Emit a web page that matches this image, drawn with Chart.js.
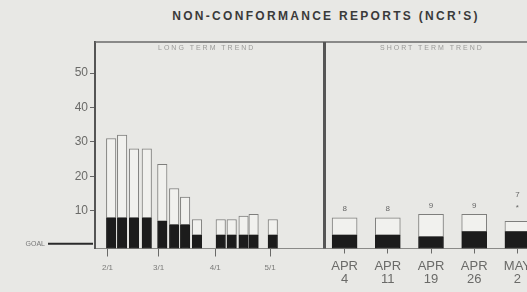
<!DOCTYPE html>
<html>
<head>
<meta charset="utf-8">
<script src="https://cdn.jsdelivr.net/npm/chart.js@4/dist/chart.umd.min.js"></script>
<style>
  html, body { margin: 0; padding: 0; background: #e8e8e5; overflow: hidden; }
  #page { position: relative; width: 527px; height: 292px; overflow: hidden; }
  #title { position: absolute; left: 0; width: 652px; top: 9px; text-align: center;
           font: bold 12px "Liberation Sans", Arial, sans-serif; letter-spacing: 2.3px; color: #3a3a3a; }
  .sub { position: absolute; top: 44px; font: 7px "Liberation Sans", Arial, sans-serif;
         letter-spacing: 2px; color: #9a9a98; white-space: nowrap; }
  #longWrap { position: absolute; left: 0; top: 0; width: 323px; height: 292px; }
  #shortWrap { position: absolute; left: 323px; top: 0; width: 216px; height: 292px; }
</style>
</head>
<body>
<div id="page">
  <div id="title">NON-CONFORMANCE REPORTS (NCR'S)</div>
  <div id="longWrap"><canvas id="longChart"></canvas></div>
  <div id="shortWrap"><canvas id="shortChart"></canvas></div>
  <div class="sub" style="left:158px">LONG TERM TREND</div>
  <div class="sub" style="left:380px">SHORT TERM TREND</div>
</div>
<script>
// 长期趋势：按周的位置（距 2/1 的天数）
const longDays = [2, 8, 14.5, 21.5, 30, 36.5, 42.5, 49, 62, 68, 74.5, 80, 90.5];
const longDark = [8, 8, 8, 8, 7, 6, 6, 3, 3, 3, 3, 3, 3];
const longLight = [23, 24, 20, 20, 16.5, 10.5, 8, 4.5, 4.5, 4.5, 5.5, 6, 4.5];
const monthTicks = [0, 28, 59, 89];
const monthLabels = ['2/1', '3/1', '4/1', '5/1'];

// 短期趋势
const weekLabels = [['APR', '4'], ['APR', '11'], ['APR', '19'], ['APR', '26'], ['MAY', '2']];
const shortDark = [3, 3, 2.5, 4, 4];
const shortLight = [5, 5, 6.5, 5, 3];
const shortTotals = ['8', '8', '9', '9', '7'];
const shortNotes = ['', '', '', '', '*'];

const yTicks = [10, 20, 30, 40, 50];
const goalValue = 0.5;
const yMin = -0.9, yMax = 59;

const DARK = '#1c1c1c';
const LIGHT = '#f1f1ee';
const EDGE = '#7e7e7c';
const FONT = '"Liberation Sans", Arial, sans-serif';

// 画框：顶部横线和右侧图的分隔线
const framePlugin = {
    id: 'frame',
    afterDraw(chart, args, opts) {
        const { ctx, chartArea: a } = chart;
        ctx.save();
        ctx.strokeStyle = '#6a6a68';
        ctx.lineWidth = 1.5;
        ctx.beginPath();
        ctx.moveTo(a.left, a.top);
        ctx.lineTo(a.right, a.top);
        ctx.stroke();
        if (opts.divider) {
            ctx.strokeStyle = '#555';
            ctx.lineWidth = 3;
            ctx.beginPath();
            ctx.moveTo(a.left + 1.5, a.top);
            ctx.lineTo(a.left + 1.5, a.bottom);
            ctx.stroke();
        }
        ctx.restore();
    }
};

// 目标线
const goalPlugin = {
    id: 'goal',
    afterDraw(chart) {
        const { ctx, chartArea: a, scales } = chart;
        const y = scales.y.getPixelForValue(goalValue);
        ctx.save();
        ctx.strokeStyle = '#2a2a2a';
        ctx.lineWidth = 2;
        ctx.beginPath();
        ctx.moveTo(48, y);
        ctx.lineTo(a.left - 2, y);
        ctx.stroke();
        ctx.fillStyle = '#777';
        ctx.font = '7px ' + FONT;
        ctx.textAlign = 'right';
        ctx.textBaseline = 'middle';
        ctx.fillText('GOAL', 45, y);
        ctx.restore();
    }
};

// 柱顶数值
const totalsPlugin = {
    id: 'totals',
    afterDatasetsDraw(chart) {
        const { ctx } = chart;
        const meta = chart.getDatasetMeta(1);
        ctx.save();
        ctx.fillStyle = '#666';
        ctx.font = '8px ' + FONT;
        ctx.textAlign = 'center';
        ctx.textBaseline = 'middle';
        meta.data.forEach((bar, i) => {
            if (shortNotes[i]) {
                ctx.fillText(shortNotes[i], bar.x, bar.y - 13);
                ctx.fillText(shortTotals[i], bar.x, bar.y - 26);
            } else {
                ctx.fillText(shortTotals[i], bar.x, bar.y - 9);
            }
        });
        ctx.restore();
    }
};

function yScale(show) {
    const s = {
        display: show,
        stacked: true,
        min: yMin,
        max: yMax,
        afterBuildTicks: sc => { sc.ticks = yTicks.map(v => ({ value: v })); },
        grid: { drawOnChartArea: false, tickLength: 5, color: '#666' },
        border: { color: '#555', width: 2 },
        ticks: { color: '#6a6a68', padding: 2, font: { family: FONT, size: 12 } }
    };
    if (show) s.afterFit = sc => { sc.width = 95; };
    return s;
}

function barSet(data, fill, thick, base) {
    const ds = {
        data: data,
        backgroundColor: fill,
        borderColor: fill === DARK ? DARK : EDGE,
        borderWidth: 1,
        borderSkipped: false,
        barThickness: thick
    };
    if (base !== undefined) ds.base = base;
    return ds;
}

new Chart(document.getElementById('longChart'), {
    type: 'bar',
    data: {
        datasets: [
            barSet(longDays.map((d, i) => ({ x: d, y: longDark[i] })), DARK, 9.5, yMin),
            barSet(longDays.map((d, i) => ({ x: d, y: longLight[i] })), LIGHT, 9.5)
        ]
    },
    options: {
        responsive: true,
        maintainAspectRatio: false,
        animation: false,
        layout: { padding: { top: 42, right: 0, bottom: 0, left: 0 } },
        plugins: { legend: { display: false }, tooltip: { enabled: false }, frame: {} },
        scales: {
            x: {
                type: 'linear',
                stacked: true,
                offset: false,
                min: -6.85,
                max: 118,
                afterBuildTicks: s => { s.ticks = monthTicks.map(v => ({ value: v })); },
                afterFit: s => { s.height = 43.5; },
                grid: { drawOnChartArea: false, offset: false, tickLength: 8, color: '#6a6a68' },
                border: { color: '#8a8a88', width: 1 },
                ticks: {
                    color: '#7a7a78',
                    padding: 6,
                    maxRotation: 0,
                    font: { family: FONT, size: 8 },
                    callback: (v, i) => monthLabels[i]
                }
            },
            y: yScale(true)
        }
    },
    plugins: [framePlugin, goalPlugin]
});

new Chart(document.getElementById('shortChart'), {
    type: 'bar',
    data: {
        labels: weekLabels,
        datasets: [
            barSet(shortDark, DARK, 25, yMin),
            barSet(shortLight, LIGHT, 25)
        ]
    },
    options: {
        responsive: true,
        maintainAspectRatio: false,
        animation: false,
        layout: { padding: { top: 42, right: 0, bottom: 0, left: 0 } },
        plugins: { legend: { display: false }, tooltip: { enabled: false }, frame: { divider: true } },
        scales: {
            x: {
                stacked: true,
                afterFit: s => { s.height = 43.5; },
                grid: { drawOnChartArea: false, offset: false, tickLength: 5, color: '#6a6a68' },
                border: { color: '#8a8a88', width: 1 },
                ticks: {
                    color: '#6a6a68',
                    padding: 6,
                    maxRotation: 0,
                    autoSkip: false,
                    font: { family: FONT, size: 13, lineHeight: 1.0 }
                }
            },
            y: yScale(false)
        }
    },
    plugins: [framePlugin, totalsPlugin]
});
</script>
</body>
</html>
